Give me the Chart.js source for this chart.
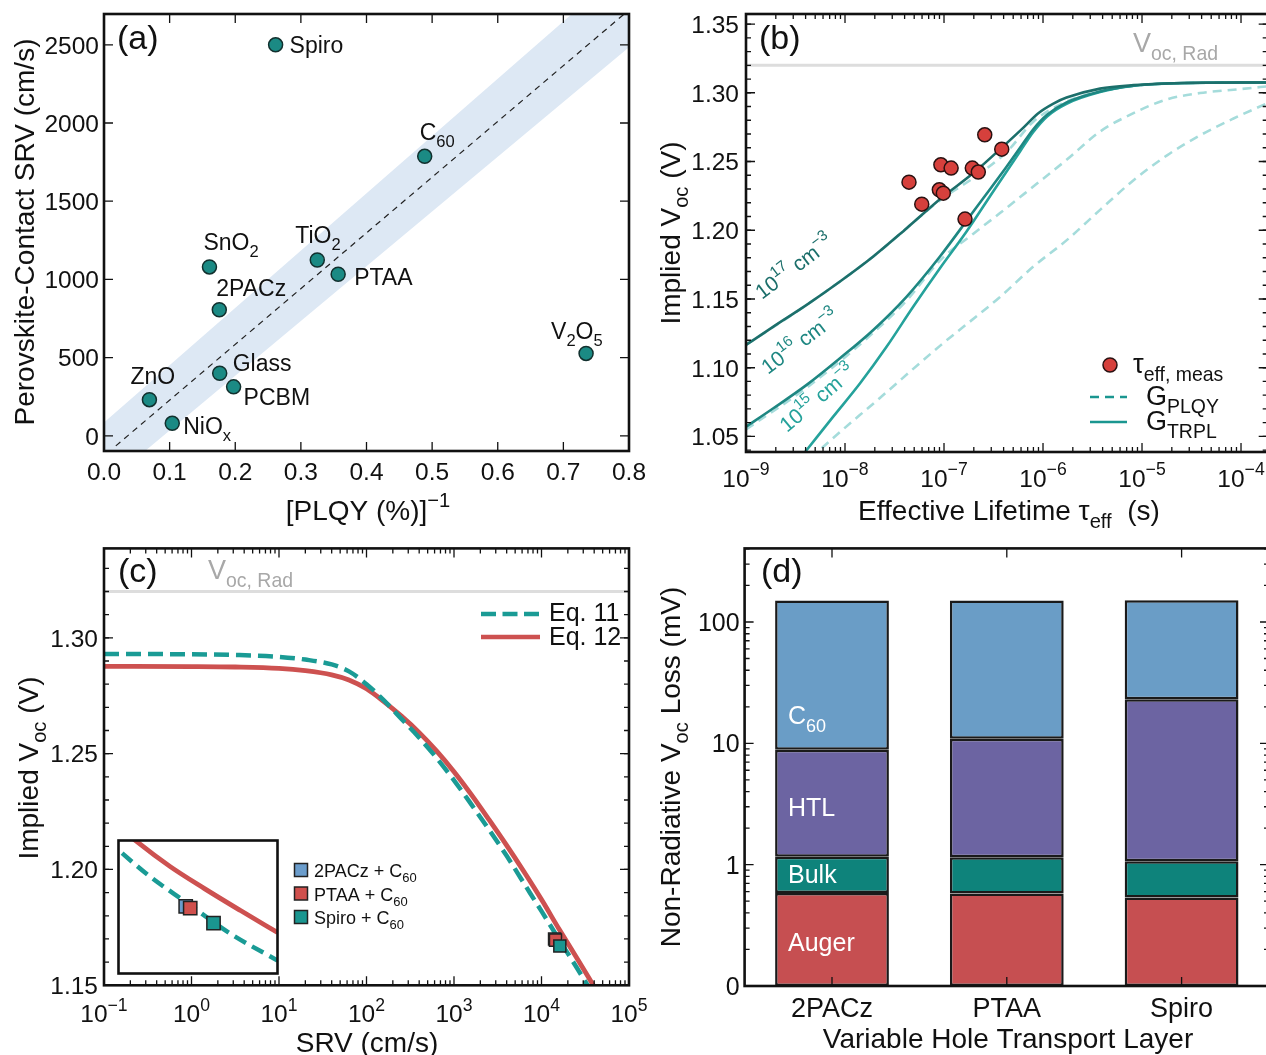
<!DOCTYPE html>
<html>
<head>
<meta charset="utf-8">
<script src="https://cdn.jsdelivr.net/npm/chart.js@4.4.1/dist/chart.umd.min.js"></script>
<style>
  html, body { margin: 0; padding: 0; background: #fff; overflow: hidden; width: 1266px; height: 1055px; }
  canvas { position: absolute; display: block; }
</style>
</head>
<body>
<canvas id="chartA" width="660" height="530" style="left:0;top:0"></canvas>
<canvas id="chartC" width="660" height="525" style="left:0;top:530px"></canvas>
<canvas id="chartB" width="640" height="530" style="left:640px;top:0"></canvas>
<canvas id="chartD" width="640" height="525" style="left:640px;top:530px"></canvas>
<canvas id="chartInset" width="162" height="136" style="left:116.5px;top:838.5px;background:#fff"></canvas>
<script>
// ---------- (a) contact SRV vs inverse PLQY ----------
const aNames = ['Spiro', 'C_{60}', 'SnO_{2}', 'TiO_{2}', 'PTAA', '2PACz', 'Glass', 'PCBM', 'ZnO', 'NiO_{x}', 'V_{2}O_{5}'];
const aInvPlqy = [0.2615, 0.4887, 0.1607, 0.325, 0.3568, 0.1757, 0.1763, 0.1975, 0.0692, 0.104, 0.7346];
const aSrv = [2500, 1787, 1080, 1124, 1033, 806, 400, 313, 231, 80, 527];
const aFitX = [0.018, 0.8];
const aFitY = [-64, 2723];
const aBandX = [0, 0.8];
const aBandHi = [85, 3016];
const aBandLo = [-316, 2485];
const aXTicks = [0, 0.1, 0.2, 0.3, 0.4, 0.5, 0.6, 0.7, 0.8];
const aXLabels = ['0.0', '0.1', '0.2', '0.3', '0.4', '0.5', '0.6', '0.7', '0.8'];
const aYTicks = [0, 500, 1000, 1500, 2000, 2500];
const aYLabels = ['0', '500', '1000', '1500', '2000', '2500'];

// ---------- (b) implied Voc vs effective lifetime ----------
const tau17 = [1e-9, 1.89e-9, 4.1e-9, 8.9e-9, 1.93e-8, 4.2e-8, 9.8e-8, 1.98e-7, 4.3e-7, 6.3e-7, 8.9e-7, 1.26e-6, 1.73e-6, 3.77e-6, 8.2e-6, 1.77e-5, 1e-4, 2e-4];
const voc17 = [1.1166, 1.1299, 1.1457, 1.1627, 1.1809, 1.2015, 1.2245, 1.2416, 1.2634, 1.2745, 1.2850, 1.2920, 1.2965, 1.3030, 1.3056, 1.3068, 1.3075, 1.3075];
const tau16 = [1e-9, 1.89e-9, 4.1e-9, 8.9e-9, 1.93e-8, 4.2e-8, 9.1e-8, 1.98e-7, 4.3e-7, 5.86e-7, 7.98e-7, 1.1e-6, 1.73e-6, 3.77e-6, 8.2e-6, 1.77e-5, 1e-4, 2e-4];
const voc16 = [1.0571, 1.0705, 1.0875, 1.1069, 1.1275, 1.1518, 1.1809, 1.2136, 1.2464, 1.2600, 1.2735, 1.2840, 1.2930, 1.3010, 1.3051, 1.3068, 1.3075, 1.3075];
const tau15 = [3.16e-9, 4.1e-9, 7.6e-9, 1.42e-8, 2.64e-8, 4.9e-8, 9.1e-8, 1.69e-7, 3.15e-7, 5.86e-7, 7.98e-7, 1.1e-6, 1.73e-6, 3.77e-6, 8.2e-6, 1.77e-5, 1e-4, 2e-4];
const voc15 = [1.030, 1.0402, 1.0644, 1.0887, 1.1154, 1.1445, 1.1724, 1.1991, 1.2284, 1.2573, 1.2715, 1.2828, 1.2920, 1.3005, 1.3051, 1.3068, 1.3075, 1.3075];
const tauP17 = [1e-9, 4.1e-9, 1.93e-8, 9.8e-8, 1.98e-7, 4.3e-7, 7.98e-7, 1.73e-6, 3.77e-6, 8.2e-6, 1.77e-5, 1e-4, 2e-4];
const vocP17 = [1.1166, 1.1457, 1.1809, 1.2235, 1.2380, 1.2570, 1.2790, 1.2935, 1.3010, 1.3050, 1.3066, 1.3075, 1.3075];
const tauP16 = [1e-9, 4.1e-9, 1.93e-8, 4.2e-8, 9.1e-8, 1.98e-7, 3.68e-7, 7.98e-7, 1.73e-6, 3.77e-6, 8.2e-6, 1.77e-5, 3.85e-5, 8.4e-5, 1.8e-4];
const vocP16 = [1.0551, 1.0855, 1.1255, 1.1490, 1.1780, 1.1975, 1.2125, 1.2318, 1.2512, 1.2718, 1.2852, 1.2951, 1.2998, 1.3022, 1.3046];
const tauP15 = [4.5e-9, 6.0e-9, 2.25e-8, 9.1e-8, 3.68e-7, 7.94e-7, 1.75e-6, 3.77e-6, 8.1e-6, 1.79e-5, 3.85e-5, 8.3e-5, 1.79e-4];
const vocP15 = [1.034, 1.0424, 1.078, 1.1159, 1.1515, 1.1734, 1.193, 1.2148, 1.2360, 1.2545, 1.2690, 1.2811, 1.2920];
const tauMeas = [4.43e-8, 5.96e-8, 9.3e-8, 1.18e-7, 8.97e-8, 9.84e-8, 1.63e-7, 1.93e-7, 2.22e-7, 2.58e-7, 3.83e-7];
const vocMeas = [1.235, 1.219, 1.2476, 1.2452, 1.2294, 1.227, 1.2081, 1.2452, 1.2423, 1.2694, 1.259];
const vocRad = 1.32;
const bXTicks = [1e-9, 1e-8, 1e-7, 1e-6, 1e-5, 1e-4];
const bXLabels = ['10^{−9}', '10^{−8}', '10^{−7}', '10^{−6}', '10^{−5}', '10^{−4}'];
const bYTicks = [1.05, 1.10, 1.15, 1.20, 1.25, 1.30, 1.35];
const bYLabels = ['1.05', '1.10', '1.15', '1.20', '1.25', '1.30', '1.35'];

// ---------- (c) implied Voc vs SRV ----------
const srv = [0.1, 1, 3.16, 10, 20, 40, 63, 100, 158, 251, 398, 631, 1000, 1585, 2512, 3981, 6310, 10000, 15850, 25120, 39810];
const eq11 = [1.2930, 1.2929, 1.2926, 1.2918, 1.2906, 1.2885, 1.2855, 1.2800, 1.2730, 1.2650, 1.2570, 1.2482, 1.2385, 1.2280, 1.2172, 1.2060, 1.1940, 1.1820, 1.1698, 1.1578, 1.1455];
const eq12 = [1.2877, 1.2876, 1.2874, 1.2868, 1.2858, 1.2840, 1.2818, 1.2780, 1.2725, 1.2662, 1.2592, 1.2512, 1.2422, 1.2322, 1.2215, 1.2105, 1.1990, 1.1870, 1.1743, 1.1620, 1.1495];
const devNames = ['2PACz + C_{60}', 'PTAA + C_{60}', 'Spiro + C_{60}'];
const devSrv = [14100, 14450, 16200];
const devVoc = [1.1700, 1.1695, 1.1670];
const cXTicks = [0.1, 1, 10, 100, 1000, 10000, 100000];
const cXLabels = ['10^{−1}', '10^{0}', '10^{1}', '10^{2}', '10^{3}', '10^{4}', '10^{5}'];
const cYTicks = [1.15, 1.20, 1.25, 1.30];
const cYLabels = ['1.15', '1.20', '1.25', '1.30'];
// inset (zoom near the devices)
const insSrv11 = [8000, 8880, 11340, 14130, 17580, 21230];
const insVoc11 = [1.1810, 1.1793, 1.1748, 1.1705, 1.1652, 1.1607];
const insSrv12 = [9600, 10310, 12900, 15560, 18360, 21230];
const insVoc12 = [1.1820, 1.1807, 1.1765, 1.1728, 1.1691, 1.1654];
const insDevSrv = [14100, 14450, 16260];
const insDevVoc = [1.1698, 1.1695, 1.1670];

// ---------- (d) non-radiative Voc loss breakdown (cumulative, mV) ----------
const dCats = ['2PACz', 'PTAA', 'Spiro'];
const augerTop = [0.585, 0.578, 0.537];
const bulkTop = [1.16, 1.15, 1.067];
const htlTop = [8.87, 10.9, 23.1];
const c60Top = [150, 150, 151];
const dYTicks = [0.1, 1, 10, 100];
const dYLabels = ['0', '1', '10', '100'];

// ---------- colours ----------
const teal = '#1b8a84', c17 = '#1c6f6b', c16 = '#1e8782', c15 = '#25a29b', lightTeal = '#a5dcdb';
const redDot = '#d6403c', eqTeal = '#1a9b95', eqRed = '#cd5150';
const devColors = ['#6b9dcc', '#d0504d', '#1a9690'];
const grey = '#a8a8a8';

const FONT = '"Liberation Sans", Arial, Helvetica, sans-serif';
const SUB = 0.72;
const TITLE = 28, TICK = 24.5, PANEL = 34;

// "V_{oc}" -> [['V',''],['oc','sub']]
function rich(str) {
  const segs = [];
  const re = /([_^])\{([^}]*)\}/g;
  let last = 0, m;
  while ((m = re.exec(str))) {
    if (m.index > last) segs.push([str.slice(last, m.index), '']);
    segs.push([m[2], m[1] === '_' ? 'sub' : 'sup']);
    last = re.lastIndex;
  }
  if (last < str.length) segs.push([str.slice(last), '']);
  return segs;
}

function drawText(ctx, str, x, y, size, o = {}) {
  const segs = rich(str);
  ctx.save();
  ctx.translate(x, y);
  if (o.rotate) ctx.rotate(o.rotate * Math.PI / 180);
  let w = 0;
  for (const [t, m] of segs) {
    ctx.font = (m ? size * SUB : size) + 'px ' + FONT;
    w += ctx.measureText(t).width;
  }
  let cx = o.align === 'center' ? -w / 2 : o.align === 'right' ? -w : 0;
  ctx.fillStyle = o.color || '#111';
  ctx.textBaseline = 'alphabetic';
  ctx.textAlign = 'left';
  for (const [t, m] of segs) {
    ctx.font = (m ? size * SUB : size) + 'px ' + FONT;
    const dy = m === 'sub' ? size * 0.3 : m === 'sup' ? -size * 0.48 : 0;
    ctx.fillText(t, cx, dy);
    cx += ctx.measureText(t).width;
  }
  ctx.restore();
}

// frame, inward ticks on all four sides, tick labels and annotations
function deco(cfg) {
  return {
    id: 'deco',
    afterDatasetsDraw(chart) {
      const { ctx, chartArea: a, scales } = chart;
      ctx.save();
      ctx.strokeStyle = '#111';
      (cfg.ticks || []).forEach(t => {
        const sc = scales[t.axis];
        ctx.lineWidth = 1.3;
        ctx.beginPath();
        t.values.forEach(v => {
          if (v < sc.min * 0.999999 || v > sc.max * 1.000001) return;
          const p = sc.getPixelForValue(v);
          if (t.axis === 'x') {
            ctx.moveTo(p, a.bottom); ctx.lineTo(p, a.bottom - t.len);
            ctx.moveTo(p, a.top); ctx.lineTo(p, a.top + t.len);
          } else {
            ctx.moveTo(a.left, p); ctx.lineTo(a.left + t.len, p);
            ctx.moveTo(a.right, p); ctx.lineTo(a.right - t.len, p);
          }
        });
        ctx.stroke();
      });
      ctx.lineWidth = 2.6;
      ctx.strokeRect(a.left, a.top, a.right - a.left, a.bottom - a.top);
      (cfg.labels || []).forEach(l => {
        const sc = scales[l.axis];
        l.values.forEach((v, i) => {
          const p = sc.getPixelForValue(v);
          if (l.axis === 'x') drawText(ctx, l.text[i], p, a.bottom + l.gap, l.size, { align: 'center' });
          else drawText(ctx, l.text[i], a.left - l.gap, p + l.size * 0.36, l.size, { align: 'right' });
        });
      });
      (cfg.texts || []).forEach(t => drawText(ctx, t.str, t.x, t.y, t.size, t));
      if (cfg.extra) cfg.extra(chart, ctx);
      ctx.restore();
    }
  };
}

function axis(type, min, max, size, more) {
  return Object.assign({
    type, min, max, bounds: 'data',
    grid: { display: false }, border: { display: false },
    ticks: { display: false }, title: { display: false },
    afterFit(s) { if (s.isHorizontal()) s.height = size; else s.width = size; }
  }, more || {});
}

function pts(xs, ys) { return xs.map((x, i) => ({ x, y: ys[i] })); }

function logMinor(fromExp, toExp) {
  const out = [];
  for (let k = fromExp; k <= toExp; k++) for (let m = 2; m <= 9; m++) out.push(m * Math.pow(10, k));
  return out;
}
function linSteps(from, to, step) {
  const out = [];
  for (let v = from; v <= to + step / 2; v += step) out.push(Math.round(v * 1000) / 1000);
  return out;
}

function opts(padding, scales) {
  return {
    responsive: false, animation: false, events: [],
    layout: { padding, autoPadding: false },
    plugins: { legend: { display: false }, tooltip: { enabled: false } },
    scales
  };
}

const curve = { pointRadius: 0, cubicInterpolationMode: 'monotone' };

// ---------- chart (a) ----------
const aLabelOffsets = [[14, 8], [-5, -16], [-6, -17], [-22, -17], [16, 11], [-3, -14], [13, -2], [10, 18], [-19, -16], [11, 11], [-35, -14]];
new Chart(document.getElementById('chartA'), {
  type: 'line',
  data: {
    datasets: [
      { data: pts(aInvPlqy, aSrv), showLine: false, pointRadius: 7, pointBackgroundColor: teal, pointBorderColor: '#12302e', pointBorderWidth: 1.5, order: 0 },
      { data: pts(aFitX, aFitY), borderColor: '#222', borderWidth: 1.2, borderDash: [6, 5], pointRadius: 0, order: 1 },
      { data: pts(aBandX, aBandHi), borderColor: 'rgba(0,0,0,0)', borderWidth: 0, pointRadius: 0, fill: '+1', backgroundColor: '#dde8f4', order: 2 },
      { data: pts(aBandX, aBandLo), borderColor: 'rgba(0,0,0,0)', borderWidth: 0, pointRadius: 0, fill: false, order: 3 }
    ]
  },
  options: opts({ left: 0, top: 14, right: 31, bottom: 0 }, { x: axis('linear', 0, 0.8, 79), y: axis('linear', -97, 2697, 104) }),
  plugins: [deco({
    ticks: [{ axis: 'x', values: aXTicks, len: 9 }, { axis: 'y', values: aYTicks, len: 9 }],
    labels: [{ axis: 'x', values: aXTicks, text: aXLabels, gap: 29, size: TICK }, { axis: 'y', values: aYTicks, text: aYLabels, gap: 5, size: TICK }],
    texts: [
      { str: '(a)', x: 117, y: 49, size: PANEL },
      { str: 'Perovskite-Contact SRV (cm/s)', x: 34, y: 232, size: TITLE, rotate: -90, align: 'center' },
      { str: '[PLQY (%)]^{−1}', x: 368, y: 520, size: TITLE, align: 'center' }
    ],
    extra(chart, ctx) {
      const xs = chart.scales.x, ys = chart.scales.y;
      aNames.forEach((n, i) => {
        drawText(ctx, n, xs.getPixelForValue(aInvPlqy[i]) + aLabelOffsets[i][0], ys.getPixelForValue(aSrv[i]) + aLabelOffsets[i][1], 23);
      });
    }
  })]
});

// ---------- chart (b) ----------
new Chart(document.getElementById('chartB'), {
  type: 'line',
  data: {
    datasets: [
      { data: pts(tauMeas, vocMeas), showLine: false, pointRadius: 7, pointBackgroundColor: redDot, pointBorderColor: '#2a1212', pointBorderWidth: 1.5, order: 0 },
      Object.assign({ data: pts(tau17, voc17), borderColor: c17, borderWidth: 2.6, order: 1 }, curve),
      Object.assign({ data: pts(tau16, voc16), borderColor: c16, borderWidth: 2.6, order: 2 }, curve),
      Object.assign({ data: pts(tau15, voc15), borderColor: c15, borderWidth: 2.6, order: 3 }, curve),
      Object.assign({ data: pts(tauP17, vocP17), borderColor: lightTeal, borderWidth: 2.6, borderDash: [9, 6], order: 4 }, curve),
      Object.assign({ data: pts(tauP16, vocP16), borderColor: lightTeal, borderWidth: 2.6, borderDash: [9, 6], order: 5 }, curve),
      Object.assign({ data: pts(tauP15, vocP15), borderColor: lightTeal, borderWidth: 2.6, borderDash: [9, 6], order: 6 }, curve),
      { data: pts([1e-9, 1.86e-4], [vocRad, vocRad]), borderColor: '#dddddd', borderWidth: 3, pointRadius: 0, order: 9 }
    ]
  },
  options: opts({ left: 0, top: 14, right: 12.3, bottom: 0 }, { x: axis('logarithmic', 1e-9, 1.86e-4, 78), y: axis('linear', 1.0387, 1.3573, 106) }),
  plugins: [deco({
    ticks: [
      { axis: 'x', values: bXTicks, len: 9 }, { axis: 'x', values: logMinor(-9, -4), len: 5 },
      { axis: 'y', values: bYTicks, len: 9 }, { axis: 'y', values: linSteps(1.04, 1.35, 0.01), len: 5 }
    ],
    labels: [{ axis: 'x', values: bXTicks, text: bXLabels, gap: 35, size: TICK }, { axis: 'y', values: bYTicks, text: bYLabels, gap: 7, size: TICK }],
    texts: [
      { str: '(b)', x: 119, y: 49, size: PANEL },
      { str: 'V_{oc, Rad}', x: 493, y: 52, size: 27, color: grey },
      { str: 'Implied V_{oc} (V)', x: 40, y: 233, size: TITLE, rotate: -90, align: 'center' },
      { str: 'Effective Lifetime τ_{eff}  (s)', x: 369, y: 520, size: TITLE, align: 'center' },
      { str: '10^{17} cm^{−3}', x: 122, y: 300, size: 21, rotate: -37, color: c17 },
      { str: '10^{16} cm^{−3}', x: 128, y: 375, size: 21, rotate: -37, color: c16 },
      { str: '10^{15} cm^{−3}', x: 147, y: 433, size: 21, rotate: -40, color: c15 },
      { str: 'τ_{eff, meas}', x: 493, y: 373, size: 27 },
      { str: 'G_{PLQY}', x: 506, y: 405, size: 27 },
      { str: 'G_{TRPL}', x: 506, y: 430, size: 27 }
    ],
    extra(chart, ctx) {
      ctx.save();
      ctx.beginPath();
      ctx.arc(470, 365, 7, 0, Math.PI * 2);
      ctx.fillStyle = redDot; ctx.fill();
      ctx.lineWidth = 1.5; ctx.strokeStyle = '#2a1212'; ctx.stroke();
      ctx.lineWidth = 2.6; ctx.strokeStyle = '#1a9690';
      ctx.setLineDash([9, 6]);
      ctx.beginPath(); ctx.moveTo(450, 397); ctx.lineTo(487, 397); ctx.stroke();
      ctx.setLineDash([]);
      ctx.beginPath(); ctx.moveTo(450, 422); ctx.lineTo(487, 422); ctx.stroke();
      ctx.restore();
    }
  })]
});

// ---------- chart (c) ----------
new Chart(document.getElementById('chartC'), {
  type: 'line',
  data: {
    datasets: [
      { data: pts(devSrv, devVoc), showLine: false, pointStyle: 'rect', pointRadius: 8.5, pointBackgroundColor: devColors, pointBorderColor: '#222', pointBorderWidth: 1.5, order: 0 },
      Object.assign({ data: pts(srv, eq11), borderColor: eqTeal, borderWidth: 4.5, borderDash: [15, 7], order: 1 }, curve),
      Object.assign({ data: pts(srv, eq12), borderColor: eqRed, borderWidth: 4.8, order: 2 }, curve),
      { data: pts([0.1, 1e5], [vocRad, vocRad]), borderColor: '#dddddd', borderWidth: 3, pointRadius: 0, order: 9 }
    ]
  },
  options: opts({ left: 0, top: 18.4, right: 31, bottom: 0 }, { x: axis('logarithmic', 0.1, 1e5, 69.7), y: axis('linear', 1.15, 1.3386, 104) }),
  plugins: [deco({
    ticks: [
      { axis: 'x', values: cXTicks, len: 9 }, { axis: 'x', values: logMinor(-1, 4), len: 5 },
      { axis: 'y', values: cYTicks, len: 9 }, { axis: 'y', values: linSteps(1.15, 1.33, 0.01), len: 5 }
    ],
    labels: [{ axis: 'x', values: cXTicks, text: cXLabels, gap: 37, size: TICK }, { axis: 'y', values: cYTicks, text: cYLabels, gap: 6, size: TICK }],
    texts: [
      { str: '(c)', x: 118, y: 52, size: PANEL },
      { str: 'V_{oc, Rad}', x: 208, y: 48.5, size: 27, color: grey },
      { str: 'Implied V_{oc} (V)', x: 38, y: 238, size: TITLE, rotate: -90, align: 'center' },
      { str: 'SRV (cm/s)', x: 367, y: 522, size: TITLE, align: 'center' },
      { str: 'Eq. 11', x: 549, y: 91, size: 25 },
      { str: 'Eq. 12', x: 549, y: 115, size: 25 }
    ],
    extra(chart, ctx) {
      ctx.save();
      ctx.lineWidth = 4.5;
      ctx.strokeStyle = eqTeal; ctx.setLineDash([15, 6.5]);
      ctx.beginPath(); ctx.moveTo(481, 84); ctx.lineTo(540, 84); ctx.stroke();
      ctx.setLineDash([]); ctx.strokeStyle = eqRed;
      ctx.beginPath(); ctx.moveTo(481, 107); ctx.lineTo(540, 107); ctx.stroke();
      devNames.forEach((n, i) => {
        const y = 340 + i * 23.5;
        ctx.fillStyle = devColors[i]; ctx.strokeStyle = '#222'; ctx.lineWidth = 1.5;
        ctx.fillRect(294.5, y - 6.5, 13, 13); ctx.strokeRect(294.5, y - 6.5, 13, 13);
        drawText(ctx, n, 314, y + 7, 18);
      });
      ctx.restore();
    }
  })]
});

// ---------- inset of (c) ----------
new Chart(document.getElementById('chartInset'), {
  type: 'line',
  data: {
    datasets: [
      { data: pts(insDevSrv, insDevVoc), showLine: false, pointStyle: 'rect', pointRadius: 9.4, pointBackgroundColor: devColors, pointBorderColor: '#222', pointBorderWidth: 1.5, order: 0 },
      Object.assign({ data: pts(insSrv11, insVoc11), borderColor: eqTeal, borderWidth: 4.5, borderDash: [13, 7], order: 1 }, curve),
      Object.assign({ data: pts(insSrv12, insVoc12), borderColor: eqRed, borderWidth: 4.8, order: 2 }, curve)
    ]
  },
  options: opts(1.5, {
    x: { type: 'linear', min: 8880, max: 21230, display: false },
    y: { type: 'linear', min: 1.1585, max: 1.1809, display: false }
  }),
  plugins: [deco({})]
});

// ---------- chart (d) ----------
const barStyle = { borderColor: '#1a1a1a', borderWidth: 2.5, borderSkipped: false, barPercentage: 0.651, categoryPercentage: 1 };
new Chart(document.getElementById('chartD'), {
  type: 'bar',
  data: {
    labels: dCats,
    datasets: [
      Object.assign({ label: 'Auger', data: augerTop.map((v) => [0.1, v]), backgroundColor: '#c64f51' }, barStyle),
      Object.assign({ label: 'Bulk', data: bulkTop.map((v, i) => [augerTop[i], v]), backgroundColor: '#0e837b' }, barStyle),
      Object.assign({ label: 'HTL', data: htlTop.map((v, i) => [bulkTop[i], v]), backgroundColor: '#6c64a2' }, barStyle),
      Object.assign({ label: 'C60', data: c60Top.map((v, i) => [htlTop[i], v]), backgroundColor: '#6a9dc6' }, barStyle)
    ]
  },
  options: opts({ left: 0, top: 18.4, right: 11, bottom: 0 }, {
    x: axis('category', undefined, undefined, 69, { offset: true, stacked: true }),
    y: axis('logarithmic', 0.1, 404, 104.6, { stacked: false })
  }),
  plugins: [deco({
    ticks: [
      { axis: 'x', values: [0, 1, 2], len: 9 },
      { axis: 'y', values: dYTicks, len: 9 }, { axis: 'y', values: logMinor(-1, 2), len: 5 }
    ],
    labels: [{ axis: 'x', values: [0, 1, 2], text: dCats, gap: 31, size: 27 }, { axis: 'y', values: dYTicks, text: dYLabels, gap: 5, size: 25 }],
    texts: [
      { str: '(d)', x: 121, y: 52, size: PANEL },
      { str: 'Non-Radiative V_{oc} Loss (mV)', x: 40, y: 237, size: TITLE, rotate: -90, align: 'center' },
      { str: 'Variable Hole Transport Layer', x: 368, y: 518, size: TITLE, align: 'center' },
      { str: 'C_{60}', x: 148, y: 194, size: 25, color: '#fff' },
      { str: 'HTL', x: 148, y: 286, size: 25, color: '#fff' },
      { str: 'Bulk', x: 148, y: 353, size: 25, color: '#fff' },
      { str: 'Auger', x: 148, y: 421, size: 25, color: '#fff' }
    ]
  })]
});
</script>
</body>
</html>
